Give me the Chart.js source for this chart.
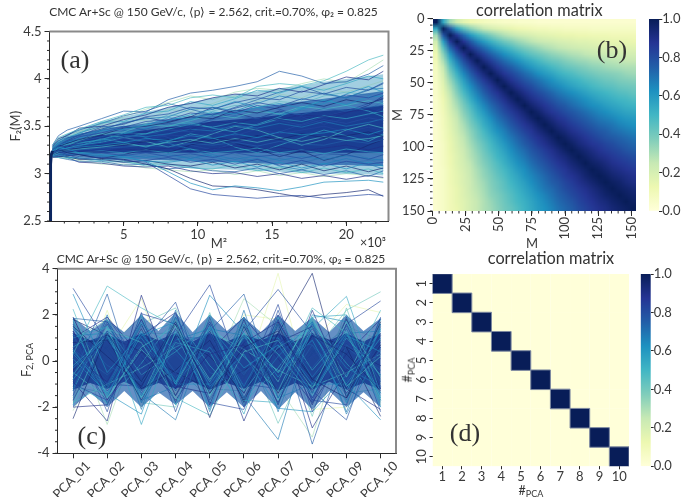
<!DOCTYPE html>
<html><head><meta charset="utf-8">
<script src="https://cdn.jsdelivr.net/npm/chart.js@4"></script>
<style>
html,body{margin:0;padding:0;background:#fff;overflow:hidden}
#page{position:absolute;left:0;top:0;width:681px;height:497px;overflow:hidden;filter:blur(.35px);background:#fff}
canvas{position:absolute}
.t{position:absolute;white-space:nowrap;color:#333;font-family:Lato,sans-serif;font-size:12.5px;line-height:1;transform:translate(-50%,-50%)}
.t sub{font-size:.72em;vertical-align:-.3em;line-height:0}
.s{font-family:"Liberation Serif",serif;font-size:26px;color:#333}
</style></head><body><div id="page"></div>
<script>
const TITLE_LEFT = "CMC Ar+Sc @ 150 GeV/c, ⟨p⟩ = 2.562, crit.=0.70%, φ₂ = 0.825";
const TITLE_RIGHT = "correlation matrix";

// (a) F2(M) curves, read at these M² nodes (in units of 10³)
const A_M2 = [0.2,0.6,1.2,2,3.5,5,6.5,8,9.5,11,12.5,14,15.5,17,18.5,20,21.5,22.5];
const A_LINES = [
[3.22,3.24,3.2,3.18,3.17,3.14,3.12,2.98,2.84,2.78,2.76,2.74,2.76,2.77,2.74,2.76,2.78,2.77],
[3.24,3.28,3.26,3.22,3.2,3.18,3.13,3.02,2.9,2.83,2.87,2.85,2.82,2.86,2.91,2.92,2.93,2.91],
[3.23,3.25,3.22,3.2,3.16,3.15,3.1,3.05,2.95,2.87,2.86,2.83,2.79,2.75,2.78,2.8,2.83,2.76],
[3.3,3.38,3.42,3.47,3.55,3.62,3.7,3.72,3.8,3.83,3.8,3.92,3.95,3.93,3.98,4.08,4.2,4.25],
[3.3,3.4,3.46,3.5,3.58,3.66,3.65,3.78,3.85,3.88,3.92,3.97,4.08,4.03,3.95,3.97,4.05,4.14],
[3.28,3.36,3.41,3.44,3.52,3.6,3.68,3.75,3.82,3.78,3.86,3.9,3.88,3.95,4,3.96,4.1,4.2],
[3.29,3.37,3.4,3.48,3.5,3.57,3.62,3.7,3.74,3.8,3.84,3.82,3.9,3.86,3.94,4.02,3.99,4.08],
[3.27,3.34,3.39,3.42,3.54,3.55,3.64,3.66,3.76,3.72,3.79,3.88,3.85,3.92,3.88,3.95,4.03,4],
[3.26,3.33,3.37,3.45,3.48,3.58,3.56,3.68,3.65,3.74,3.82,3.76,3.84,3.8,3.9,3.86,3.93,3.98],
[3.28,3.35,3.38,3.4,3.49,3.52,3.6,3.63,3.7,3.68,3.75,3.8,3.78,3.87,3.84,3.91,3.88,3.95],
[3.25,3.31,3.36,3.41,3.46,3.54,3.58,3.6,3.68,3.7,3.66,3.74,3.82,3.78,3.85,3.8,3.89,3.9],
[3.27,3.32,3.35,3.38,3.47,3.5,3.53,3.62,3.6,3.66,3.72,3.7,3.76,3.74,3.82,3.86,3.83,3.88],
[3.26,3.3,3.34,3.39,3.43,3.49,3.55,3.57,3.64,3.62,3.69,3.75,3.71,3.79,3.76,3.83,3.8,3.85],
[3.24,3.3,3.33,3.37,3.45,3.47,3.51,3.59,3.57,3.65,3.63,3.7,3.74,3.69,3.77,3.73,3.81,3.82],
[3.25,3.29,3.32,3.36,3.41,3.48,3.5,3.54,3.6,3.58,3.67,3.64,3.7,3.75,3.71,3.78,3.74,3.79],
[3.26,3.31,3.31,3.35,3.42,3.44,3.52,3.5,3.56,3.62,3.59,3.66,3.63,3.71,3.68,3.72,3.77,3.74],
[3.23,3.28,3.33,3.34,3.39,3.45,3.47,3.53,3.51,3.57,3.61,3.58,3.65,3.62,3.69,3.66,3.7,3.72],
[3.24,3.27,3.3,3.36,3.38,3.42,3.48,3.46,3.54,3.52,3.6,3.56,3.61,3.67,3.63,3.68,3.64,3.69],
[3.25,3.28,3.29,3.33,3.4,3.41,3.44,3.49,3.47,3.55,3.53,3.59,3.57,3.62,3.6,3.65,3.68,3.64],
[3.22,3.27,3.31,3.32,3.36,3.43,3.42,3.47,3.52,3.49,3.54,3.51,3.58,3.55,3.61,3.58,3.63,3.66],
[3.23,3.26,3.28,3.34,3.35,3.39,3.45,3.43,3.48,3.53,3.5,3.55,3.52,3.59,3.54,3.6,3.57,3.61],
[3.24,3.26,3.29,3.31,3.37,3.38,3.41,3.46,3.44,3.5,3.47,3.52,3.56,3.51,3.57,3.53,3.59,3.56],
[3.22,3.25,3.3,3.3,3.34,3.4,3.39,3.42,3.47,3.45,3.51,3.48,3.53,3.49,3.55,3.5,3.54,3.58],
[3.23,3.26,3.27,3.32,3.33,3.36,3.4,3.38,3.44,3.41,3.46,3.5,3.45,3.52,3.47,3.51,3.48,3.53],
[3.21,3.25,3.26,3.29,3.32,3.37,3.35,3.41,3.39,3.43,3.4,3.47,3.42,3.46,3.5,3.44,3.49,3.45],
[3.22,3.24,3.27,3.28,3.3,3.33,3.37,3.35,3.4,3.37,3.42,3.38,3.44,3.41,3.43,3.47,3.41,3.46],
[3.21,3.24,3.25,3.27,3.31,3.3,3.34,3.36,3.33,3.38,3.35,3.4,3.36,3.42,3.38,3.4,3.44,3.39],
[3.2,3.23,3.25,3.26,3.28,3.31,3.29,3.33,3.36,3.32,3.37,3.33,3.38,3.34,3.39,3.35,3.37,3.4],
[3.21,3.23,3.24,3.25,3.27,3.28,3.3,3.28,3.32,3.3,3.33,3.29,3.34,3.31,3.3,3.35,3.32,3.36],
[3.2,3.22,3.24,3.23,3.26,3.25,3.27,3.29,3.26,3.3,3.27,3.31,3.26,3.3,3.32,3.27,3.31,3.28],
[3.2,3.22,3.23,3.24,3.23,3.26,3.24,3.27,3.23,3.26,3.29,3.25,3.28,3.24,3.27,3.3,3.25,3.29],
[3.19,3.21,3.23,3.22,3.24,3.22,3.25,3.22,3.26,3.22,3.24,3.27,3.22,3.25,3.21,3.26,3.23,3.22],
[3.2,3.21,3.21,3.23,3.21,3.23,3.2,3.24,3.19,3.23,3.2,3.22,3.25,3.19,3.23,3.18,3.22,3.19],
[3.19,3.2,3.22,3.2,3.22,3.19,3.22,3.18,3.21,3.17,3.22,3.18,3.2,3.16,3.21,3.2,3.15,3.2],
[3.18,3.2,3.2,3.21,3.18,3.2,3.17,3.2,3.16,3.2,3.15,3.19,3.14,3.18,3.15,3.19,3.16,3.14],
[3.19,3.19,3.19,3.18,3.19,3.16,3.19,3.15,3.18,3.13,3.17,3.12,3.16,3.12,3.17,3.11,3.14,3.15],
[3.18,3.18,3.2,3.16,3.17,3.15,3.14,3.17,3.12,3.15,3.1,3.15,3.09,3.14,3.08,3.13,3.1,3.12],
[3.19,3.2,3.17,3.17,3.14,3.17,3.13,3.12,3.15,3.09,3.13,3.07,3.12,3.06,3.11,3.05,3.12,3.08],
[3.17,3.18,3.18,3.15,3.15,3.12,3.14,3.1,3.08,3.12,3.06,3.1,3.04,3.1,3.03,3.08,3.02,3.06],
[3.18,3.17,3.16,3.16,3.12,3.13,3.08,3.1,3.06,3.05,3.09,3.03,3.07,3.01,3.06,3.01,3.05,3],
[3.18,3.17,3.15,3.13,3.13,3.09,3.1,3.05,3.07,3.03,3.02,3.06,3,3.04,2.99,3.03,2.97,3.03],
[3.19,3.18,3.16,3.14,3.1,3.1,3.06,3.04,3.02,3.04,2.99,3.03,2.98,3.01,2.97,3,2.98,2.95],
[3.2,3.19,3.17,3.12,3.11,3.08,3.07,3.08,3.03,3,3.01,2.97,3,2.95,2.98,2.94,2.98,2.96],
[3.21,3.25,3.27,3.3,3.33,3.38,3.42,3.5,3.54,3.48,3.44,3.52,3.6,3.7,3.78,3.72,3.66,3.6],
[3.26,3.32,3.36,3.4,3.44,3.4,3.46,3.52,3.46,3.4,3.34,3.28,3.24,3.2,3.26,3.34,3.42,3.5],
[3.24,3.29,3.3,3.35,3.46,3.5,3.46,3.38,3.3,3.25,3.32,3.38,3.44,3.52,3.6,3.66,3.74,3.8],
[3.27,3.33,3.37,3.43,3.5,3.46,3.38,3.32,3.26,3.18,3.12,3.16,3.08,3.04,3.1,3.16,3.1,3.05],
[3.22,3.26,3.32,3.34,3.38,3.32,3.26,3.22,3.16,3.22,3.3,3.4,3.48,3.42,3.5,3.58,3.68,3.76],
[3.23,3.24,3.27,3.26,3.24,3.29,3.36,3.42,3.5,3.58,3.64,3.72,3.68,3.6,3.52,3.58,3.62,3.7],
[3.25,3.3,3.34,3.33,3.35,3.42,3.48,3.56,3.62,3.68,3.76,3.7,3.62,3.68,3.74,3.84,3.92,3.86],
[3.21,3.22,3.19,3.2,3.16,3.2,3.26,3.22,3.3,3.36,3.32,3.26,3.18,3.24,3.14,3.2,3.3,3.36],
[3.24,3.28,3.29,3.36,3.42,3.38,3.34,3.28,3.34,3.42,3.5,3.46,3.38,3.3,3.36,3.46,3.52,3.48],
[3.28,3.34,3.41,3.46,3.53,3.61,3.66,3.74,3.68,3.62,3.7,3.78,3.86,3.92,3.84,3.8,3.88,3.96],
[3.2,3.21,3.18,3.15,3.19,3.14,3.09,3.13,3.2,3.26,3.2,3.12,3.05,3.1,3.18,3.24,3.16,3.08],
[3.26,3.3,3.35,3.41,3.47,3.53,3.59,3.55,3.6,3.7,3.64,3.58,3.66,3.6,3.56,3.64,3.72,3.82],
[3.23,3.27,3.26,3.29,3.37,3.33,3.28,3.34,3.42,3.38,3.28,3.22,3.3,3.38,3.46,3.4,3.34,3.42]
];
// density of the curves too dense to read one by one, at the A_M2 nodes
const A_OUTER_UPPER = [3.3,3.37,3.42,3.47,3.55,3.6,3.65,3.7,3.75,3.8,3.84,3.87,3.9,3.93,3.97,4,4.03,4.05];
const A_OUTER_LOWER = [3.19,3.18,3.17,3.16,3.13,3.11,3.09,3.08,3.06,3.05,3.04,3.03,3.02,3.01,3,3,2.99,2.98];
const A_MID_UPPER = [3.28,3.33,3.38,3.42,3.46,3.5,3.53,3.57,3.6,3.64,3.67,3.7,3.73,3.76,3.79,3.82,3.85,3.87];
const A_MID_LOWER = [3.2,3.2,3.19,3.19,3.17,3.16,3.15,3.14,3.13,3.12,3.12,3.11,3.1,3.1,3.09,3.09,3.08,3.08];
const A_CORE_UPPER = [3.27,3.31,3.34,3.37,3.41,3.43,3.46,3.49,3.52,3.55,3.57,3.59,3.62,3.64,3.66,3.68,3.7,3.72];
const A_CORE_LOWER = [3.21,3.22,3.22,3.22,3.22,3.22,3.22,3.22,3.22,3.22,3.22,3.22,3.22,3.22,3.22,3.22,3.22,3.22];
// the steep rise at the very smallest M²
const A_RISE_M2 = [0.05,0.07,0.12,0.2];
const A_RISE_F2 = [2.4,3.1,3.2,3.24];

// (b) correlation matrix, upper triangle, one reading every 5 bins of M
const B_UPPER = [
[1,.55,.32,.22,.16,.12,.10,.08,.07,.06,.05,.05,.04,.04,.04,.03,.03,.03,.03,.03,.03,.03,.03,.03,.03,.03,.03,.03,.03,.03],
[1,.78,.58,.45,.36,.30,.25,.21,.18,.16,.14,.12,.11,.10,.09,.09,.08,.08,.07,.07,.07,.07,.06,.06,.06,.06,.06,.06,.06],
[1,.86,.72,.60,.51,.44,.38,.33,.29,.26,.23,.21,.19,.17,.16,.15,.14,.13,.13,.12,.12,.11,.11,.11,.10,.10,.10,.10],
[1,.88,.77,.67,.59,.52,.46,.41,.37,.33,.30,.27,.25,.23,.22,.20,.19,.18,.17,.17,.16,.15,.15,.14,.14,.14,.13],
[1,.89,.80,.72,.65,.58,.53,.48,.43,.39,.36,.33,.30,.28,.26,.25,.23,.22,.21,.20,.19,.19,.18,.18,.17,.17],
[1,.91,.83,.75,.69,.63,.58,.53,.48,.44,.41,.38,.35,.33,.31,.29,.28,.26,.25,.24,.23,.23,.22,.21,.21],
[1,.92,.85,.78,.72,.67,.62,.57,.53,.49,.45,.42,.40,.37,.35,.33,.32,.30,.29,.28,.27,.26,.25,.25],
[1,.93,.86,.80,.75,.70,.65,.60,.56,.53,.49,.46,.43,.41,.39,.37,.35,.34,.32,.31,.30,.29,.29],
[1,.93,.87,.82,.77,.72,.68,.63,.59,.56,.52,.49,.47,.44,.42,.40,.38,.37,.36,.35,.33,.32],
[1,.94,.88,.83,.78,.74,.70,.66,.62,.58,.55,.52,.50,.47,.45,.43,.41,.40,.38,.37,.36],
[1,.94,.89,.84,.80,.75,.71,.67,.64,.60,.57,.54,.52,.49,.47,.45,.44,.42,.41,.40],
[1,.95,.90,.85,.81,.77,.73,.69,.66,.63,.60,.57,.54,.52,.50,.48,.46,.45,.43],
[1,.95,.90,.86,.82,.78,.74,.71,.68,.65,.62,.59,.56,.54,.52,.50,.49,.47],
[1,.95,.91,.87,.83,.79,.76,.72,.69,.66,.63,.61,.58,.56,.54,.52,.51],
[1,.96,.91,.87,.84,.80,.77,.74,.71,.68,.65,.63,.60,.58,.56,.55],
[1,.96,.92,.88,.85,.81,.78,.75,.72,.69,.67,.65,.62,.60,.59],
[1,.96,.92,.89,.85,.82,.79,.76,.73,.71,.69,.66,.64,.62],
[1,.96,.93,.89,.86,.83,.80,.77,.75,.72,.70,.68,.66],
[1,.97,.93,.90,.87,.84,.81,.78,.76,.74,.72,.70],
[1,.97,.93,.90,.87,.85,.82,.80,.77,.75,.73],
[1,.97,.94,.91,.88,.85,.83,.81,.78,.76],
[1,.97,.94,.91,.89,.86,.84,.82,.80],
[1,.97,.95,.92,.89,.87,.85,.83],
[1,.98,.95,.92,.90,.88,.86],
[1,.98,.95,.93,.91,.89],
[1,.98,.96,.93,.91],
[1,.98,.96,.94],
[1,.98,.96],
[1,.98],
[1]
];
const B_BIN = 5;
const B_TICKS = [0,25,50,75,100,125,150];

// (c) F2 projected on the PCA components
const C_LABELS = ["PCA_01","PCA_02","PCA_03","PCA_04","PCA_05","PCA_06","PCA_07","PCA_08","PCA_09","PCA_10"];
const C_LINES = [
[3.15,.8,-.6,.9,-.4,1.1,-.8,.2,.9,-1.2],[2.9,-.5,1.2,-.9,1.5,-.3,.7,-1.4,1.1,.4],
[-2.5,1.2,-.9,1.7,-1.4,.6,1.3,-.8,-1.6,1.7],[.3,3.25,2.3,1.5,-.8,1.2,-.5,1.9,-1.1,.2],
[-.7,2.9,-1.8,.6,1.2,-1.6,.9,-.3,1.5,-.9],[1.2,-2.75,1.4,-.7,.8,-1.2,1.5,-.9,.3,1.1],
[-.9,-2.6,2.85,-1.2,.3,.7,-1.8,1.2,-.5,.8],[.6,1.5,-2.75,1.3,-.9,1.6,.3,-1.5,1,-.6],
[-1.4,.4,2.7,-1.5,1.1,-.5,1.2,.2,-1.2,1.5],[1.1,-1.3,.7,2.55,-1.7,.9,-.6,1.4,-.8,.3],
[-.3,1,-1.4,-2.55,1.5,-1.1,1.6,-.7,1.2,-1.5],[.9,-.8,1.6,2.3,-.6,1.7,-1.2,.5,-1.5,.9],
[-1.1,1.7,-.4,1.1,3.3,-.9,1.8,-1.6,.8,-.2],[.5,-1.5,1.3,-1,2.85,1.2,-.5,.9,-1.8,1.4],
[1.5,.2,-1.1,1.6,-2.45,1.5,-1.4,1.1,.3,-1.3],[-.6,1.4,.8,-1.6,-2.35,.4,.9,-1.2,1.7,-.7],
[.2,-1,1.5,-.5,1.3,2.9,-1.6,.7,-.9,1.6],[-1.6,.7,-1.3,1.4,-.7,2.7,1.5,-1.1,.4,-1],
[1.3,-1.7,.4,-1.2,1.6,-2.6,.8,1.5,-1.4,.6],[-.2,1.1,-1.6,.8,.4,-2.3,1.9,-.4,1.3,-1.6],
[.7,-.6,.9,-1.4,1.4,-.8,3.8,-1.9,.6,1.2],[-1,1.6,-.7,.3,-1.2,1.3,3.1,1.2,-1.5,.5],
[.4,-1.1,1.7,-.9,.6,-1.5,-3.4,1.6,-.3,-1.1],[1.6,.5,-1.5,1.2,-.3,.9,-2.7,.4,1.4,-.8],
[-1.3,1.3,.2,-.6,1.7,-1,2.45,-2.2,.9,.1],[.1,-1.4,1.1,1.7,-1.1,.3,-2.05,-2.2,-.6,1.3],
[.8,.9,-1.2,-.4,.9,-1.7,1.2,3.8,-1.6,.7],[-.5,-1.6,.6,1.5,-1.5,1.1,-.9,2.3,1.2,-1.7],
[1.4,-.2,-.9,.7,1.2,-.6,1.5,-3.6,.7,-.4],[-1.7,1.2,1,-1.3,.1,1.6,-1.1,-3.3,1.5,.9],
[.2,-.9,1.8,-1.1,-1.4,.8,1.7,-2.9,-.4,1.1],[1,1.5,-.6,.4,1.6,-1.3,.6,1.4,2.8,-1.4],
[-1.2,-.3,1.4,-1.7,.7,1.4,-1.5,.8,2.45,2.1],[.6,-1.8,.3,1.3,-.9,-.4,1.1,-1.3,-2.55,1.5],
[-.8,1.3,-1.5,.9,1.4,-1.7,.2,1.7,-2.3,.6],[1.7,-.7,1.2,-.3,-1.6,1.2,-1,.3,2.2,3],
[-1.5,1.9,-.2,-1.5,.8,.5,1.4,-1.7,1.6,2.6],[.3,-1.2,1.6,.5,-1.3,1.5,-.7,1.2,-1,-2.55],
[-.4,1,-1.7,1.1,.2,-1.4,1.7,-.8,.6,-2.4],[2.25,-1.6,.5,-1,1.5,.2,-1.3,1.8,-.7,2.2],
[1.85,1.7,-1.3,1.9,-.5,-1,.9,.7,-1.7,1.85],[-2.15,.6,1.9,-.8,1.8,-1.6,1.9,-.5,1.8,-1.9],
[-2,-1.9,1.1,2.1,-1.9,1.8,-1.9,2.2,-1.2,-2.1],[1.8,-1.9,2,-1.9,2,-1.7,-1.8,1.9,2,-1.6],
[-1.8,2.2,-2,1.8,-1.7,2,1.8,-2.1,-2,1.7],[1.2,-2.2,2.1,-2.2,1.9,-2,2.2,-1.8,1.9,-2.2],
[-1.2,2,-2.1,2.2,-2.1,2.2,-2.2,1.7,-2.2,1.6],[.9,1.8,-1.8,-2,2.1,-1.9,1.6,-2.4,2.3,-1.8],
[-1,-1.7,2.05,1.6,-1.8,-2.1,2,-1.7,-1.9,1.9],[1.5,-1.4,-2.3,1.9,-2.2,1.9,-1.6,2,1.7,-2],
[1.9,-1.2,1.6,-1.5,1.3,-1.8,1.6,-1.4,1.8,-1.2],[-1.9,1.4,-1.6,1.6,-1.5,1.5,-1.7,1.5,-1.5,1.4],
[1.6,-1.6,1.8,-1.3,1.7,-1.4,1.8,-1.6,1.4,-1.7],[-1.6,1.6,-1.2,1.8,-1.3,1.8,-1.4,1.8,-1.8,1.6],
[1.3,-1.1,1.4,-1.8,1.2,-1.6,1.2,-1.9,1.6,-1.4],[-1.3,1.8,-1.8,1.2,-1.8,1.2,-1.9,1.3,-1.3,1.8],
[1.7,-1.5,1.1,-1.6,1.8,-1.2,1.4,-1.2,1.9,-1],[-1.7,1.1,-1.4,1.4,-1,1.6,-1.2,1.6,-1.1,1.2],
[1.1,1.2,-1.7,-1.1,1.4,1.1,-1.6,-1,1.2,1.3],[-1.1,-1.4,1.2,1.2,-1.2,-1.3,1.1,1.1,-1.4,-1.2],
[.8,-1,-1.1,1,1,-1,-1.2,.9,.9,-1.1],[-.8,1,1,-1,-1,1,1,-1,-1,1],
[1.8,1.1,.4,-.5,-1.2,-.4,.5,1.2,.6,-.2],[-1.8,-1,-.3,.6,1.3,.5,-.4,-1.1,-.5,.3],
[.5,-.6,.7,-.7,.6,-.5,.7,-.8,.6,-.6],[-.5,.6,-.8,.6,-.7,.7,-.6,.6,-.7,.7],
[1,1.9,.2,-1.7,.4,1.9,.1,-1.8,.3,1.8],[-1,-1.8,-.1,1.9,-.2,-1.8,-.3,1.7,-.1,-1.7]
];
// density of the curves too dense to read one by one, at and between the PCA components
const C_BAND_X = [0,.5,1,1.5,2,2.5,3,3.5,4,4.5,5,5.5,6,6.5,7,7.5,8,8.5,9];
const C_MID_UPPER = [1.9,1.3,1.8,1.25,2,1.3,2.1,1.25,2,1.3,1.9,1.25,2,1.3,1.9,1.25,2,1.3,1.85];
const C_MID_LOWER = [-2,-1.35,-2,-1.3,-2,-1.35,-1.9,-1.3,-2,-1.35,-2,-1.3,-2.1,-1.35,-2.1,-1.3,-2,-1.35,-2];
const C_CORE_UPPER = [1.2,.9,1.15,.85,1.2,.9,1.2,.85,1.2,.85,1.15,.9,1.2,.85,1.15,.9,1.2,.85,1.2];
const C_CORE_LOWER = [-1.25,-.95,-1.2,-.9,-1.25,-.95,-1.2,-.9,-1.25,-.95,-1.2,-.9,-1.3,-.95,-1.25,-.9,-1.25,-.95,-1.25];

// (d) correlation matrix of the PCA components
const D_LABELS = ["1","2","3","4","5","6","7","8","9","10"];
const D_MATRIX = [
[1,0,0,0,0,0,0,0,0,0],[0,1,0,0,0,0,0,0,0,0],[0,0,1,0,0,0,0,0,0,0],[0,0,0,1,0,0,0,0,0,0],[0,0,0,0,1,0,0,0,0,0],
[0,0,0,0,0,1,0,0,0,0],[0,0,0,0,0,0,1,0,0,0],[0,0,0,0,0,0,0,1,0,0],[0,0,0,0,0,0,0,0,1,0],[0,0,0,0,0,0,0,0,0,1]
];
const CBAR_TICKS = [0,.2,.4,.6,.8,1];

/* ---------- styling ---------- */
const FONT = "Lato, sans-serif";
const INK = "#3a3a3a", AXIS = "#2a2a2a", FRAME = "#8a8a8a";
const CMAP = [[255,255,217],[237,248,177],[199,233,180],[127,205,187],[65,182,196],[29,145,192],[34,94,168],[37,52,148],[8,29,88]];
function rgb(v,a){
  const t=Math.max(0,Math.min(1,v))*(CMAP.length-1), i=Math.min(CMAP.length-2,Math.floor(t)), f=t-i;
  const c=CMAP[i].map((u,k)=>Math.round(u+(CMAP[i+1][k]-u)*f));
  return a===undefined?`rgb(${c})`:`rgba(${c},${a})`;
}
const SHADES=[.82,.62,.95,.48,.75,.3,.9,.55,.15,.8,.68,.4];
// pale curves lie beneath the dense band, darker ones above it
const layerOf=s=>s<.45?10:0;
const page=document.getElementById("page");
function canvasAt(l,t,w,h,cssW,cssH){
  const c=document.createElement("canvas");
  c.style.left=l+"px";c.style.top=t+"px";c.style.width=(cssW||w)+"px";c.style.height=(cssH||h)+"px";
  c.width=w;c.height=h;page.appendChild(c);return c;
}
function text(html,x,y,cls,rot,fs){
  const d=document.createElement("div");d.className="t "+(cls||"");d.innerHTML=html;
  d.style.left=x+"px";d.style.top=y+"px";
  if(fs)d.style.fontSize=fs+"px";
  if(rot)d.style.transform=`translate(-50%,-50%) rotate(${rot}deg)`;
  page.appendChild(d);
}
const minorPlugin={id:"minor",afterDraw(ch,a,o){
  const g=ch.ctx,A=ch.chartArea;g.save();g.strokeStyle=AXIS;g.lineWidth=1;
  (o.x||[]).forEach(v=>{const p=ch.scales.x.getPixelForValue(v);g.beginPath();g.moveTo(p,A.bottom);g.lineTo(p,A.bottom+2.5);g.stroke();});
  (o.y||[]).forEach(v=>{const p=ch.scales.y.getPixelForValue(v);g.beginPath();g.moveTo(A.left,p);g.lineTo(A.left-2.5,p);g.stroke();});
  if(o.frame){g.strokeStyle=FRAME;g.lineWidth=2;g.beginPath();g.moveTo(A.left,A.top);g.lineTo(A.right,A.top);g.lineTo(A.right,A.bottom);g.stroke();}
  if(o.yLabels){g.fillStyle=INK;g.font=o.font;g.textAlign="center";g.textBaseline="middle";
    ch.scales.y.ticks.forEach((t,i)=>{g.save();g.translate(A.left-10.5,ch.scales.y.getPixelForValue(t.value));g.rotate(-Math.PI/2);g.fillText(o.yLabels[i],0,0);g.restore();});}
  g.restore();
}};
function seq(a,b,s){const r=[];for(let v=a;v<=b+1e-9;v+=s)r.push(+v.toFixed(4));return r;}
function axis(o){
  const s={type:"linear",min:o.min,max:o.max,reverse:!!o.reverse,position:o.position,
    border:{display:o.border!==false,color:AXIS,width:o.bw||1},
    grid:{display:true,drawOnChartArea:false,drawTicks:true,tickLength:o.tl||5,color:AXIS,tickColor:AXIS},
    ticks:{autoSkip:false,font:{family:FONT,size:o.fs||13},color:INK,padding:o.pad===undefined?3:o.pad,display:o.showLabels!==false,
      labelOffset:o.lo||0,minRotation:o.rot||0,maxRotation:o.rot||0,callback:o.fmt||(v=>String(v))},
    afterBuildTicks:sc=>{sc.ticks=o.ticks.map(v=>({value:v}));},
    afterFit:sc=>{if(o.w!==undefined)sc.width=o.w;if(o.h!==undefined)sc.height=o.h;}};
  if(o.title)s.title={display:true,text:o.title,color:INK,font:{family:FONT,size:o.tfs||13,lineHeight:1},padding:o.tpad||{top:0,bottom:0}};
  return s;
}
const BASE={responsive:false,animation:false,events:[],devicePixelRatio:1};
const QUIET={legend:{display:false},tooltip:{enabled:false}};

/* ---------- (a) ---------- */
(function(){
  const pts=l=>A_M2.map((x,i)=>({x,y:l[i]}));
  const ds=A_LINES.map((l,i)=>{const s=SHADES[i%SHADES.length];
    return {data:pts(l),borderColor:rgb(s,.68),borderWidth:1,pointRadius:0,tension:0,order:layerOf(s)};});
  ds.unshift({data:A_RISE_M2.map((x,i)=>({x,y:A_RISE_F2[i]})),borderColor:"#0b2560",borderWidth:3,pointRadius:0,order:0});
  [[A_CORE_UPPER,A_CORE_LOWER,"rgba(20,52,140,.85)"],[A_MID_UPPER,A_MID_LOWER,"rgba(28,88,170,.7)"],[A_OUTER_UPPER,A_OUTER_LOWER,"rgba(70,160,195,.5)"]].forEach((b,k)=>{
    const n=ds.length;
    ds.push({data:pts(b[0]),borderWidth:0,pointRadius:0,fill:{target:n+1},backgroundColor:b[2],order:3+k});
    ds.push({data:pts(b[1]),borderWidth:0,pointRadius:0,order:3+k});
  });
  new Chart(canvasAt(0,0,400,250),{type:"line",plugins:[minorPlugin],data:{datasets:ds},options:{...BASE,
    layout:{padding:{right:11.5,top:31.5}},
    plugins:{...QUIET,minor:{x:seq(1,22,1),y:seq(2.5,4.5,.1),frame:true}},
    scales:{
      x:axis({min:0,max:22.85,ticks:[5,10,15,20],h:29,title:"M²",tfs:13,pad:1}),
      y:axis({min:2.5,max:4.5,ticks:[2.5,3,3.5,4,4.5],w:49.5,fmt:v=>v%1===0?String(v):v.toFixed(1),title:"F₂(M)",tpad:{top:9,bottom:0}})
    }}});
})();

/* ---------- heat maps ---------- */
function cellsChart(cv,cells,n,opts){
  new Chart(cv,{type:"scatter",plugins:opts.plugins||[],data:{datasets:[{data:cells,
    pointStyle:"rect",
    pointRadius:c=>(c.chart.scales.x.width/n+(opts.over||0))/Math.SQRT2,
    pointBackgroundColor:c=>rgb(c.raw.v),
    pointBorderColor:c=>c.raw.v>.99&&opts.edge?opts.edge:"transparent",
    pointBorderWidth:c=>c.raw.v>.99&&opts.edge?1:0}]},
    options:{...BASE,layout:{padding:opts.pad||0},
    plugins:{...QUIET,minor:opts.minor},scales:opts.scales}});
}
function colorbar(l,t,w,h,padL,axisW,padTop,padBottom,fs){
  new Chart(canvasAt(l,t,w,h),{type:"bar",data:{labels:["r"],datasets:[{data:[[0,1]],barPercentage:1,categoryPercentage:1,
    backgroundColor:c=>{const a=c.chart.chartArea;if(!a)return "#000";
      const g=c.chart.ctx.createLinearGradient(0,a.bottom,0,a.top);
      for(let i=0;i<CMAP.length;i++)g.addColorStop(i/(CMAP.length-1),rgb(i/(CMAP.length-1)));return g;}}]},
    options:{...BASE,layout:{padding:{left:padL,top:padTop,bottom:padBottom}},
    plugins:QUIET,
    scales:{x:{display:false},y:{...axis({min:0,max:1,ticks:CBAR_TICKS,w:axisW,fs:fs,pad:0,tl:3,border:false,fmt:v=>v.toFixed(1)}),position:"right"}}}});
}

/* (b): one canvas pixel per reading, smoothed by the browser when it is stretched over the plot */
(function(){
  const cells=[];
  B_UPPER.forEach((row,r)=>row.forEach((v,k)=>{
    const c=r+k;
    cells.push({x:(c+.5)*B_BIN,y:(r+.5)*B_BIN,v});
    if(c!==r)cells.push({x:(r+.5)*B_BIN,y:(c+.5)*B_BIN,v});
  }));
  const n=B_UPPER.length;
  cellsChart(canvasAt(432.5,18.7,n,n,203.2,192.3),cells,n,{
    scales:{x:{display:false,type:"linear",min:0,max:150},y:{display:false,type:"linear",min:0,max:150,reverse:true}}});
  new Chart(canvasAt(388,0,260,250),{type:"scatter",plugins:[minorPlugin],data:{datasets:[]},options:{...BASE,
    layout:{padding:{right:12.3,top:18.7}},
    plugins:{...QUIET,minor:{x:seq(0,150,5),y:seq(0,150,5)}},
    scales:{
      x:axis({min:0,max:150,ticks:B_TICKS,h:39,rot:90,title:"M",pad:1,border:false}),
      y:axis({min:0,max:150,reverse:true,ticks:B_TICKS,w:44.5,title:"M",tpad:{top:3,bottom:0},border:false})
    }}});
  colorbar(640,0,41,250,9,21.7,19,39,13);
})();

/* ---------- (c) ---------- */
(function(){
  const pts=l=>l.map((y,x)=>({x,y}));
  const band=l=>C_BAND_X.map((x,i)=>({x,y:l[i]}));
  const ds=C_LINES.map((l,i)=>{const s=SHADES[i%SHADES.length];
    return {data:pts(l),borderColor:rgb(s,.62),borderWidth:1,pointRadius:0,tension:0,order:layerOf(s)};});
  [[C_CORE_UPPER,C_CORE_LOWER,"rgba(20,56,142,.85)"],[C_MID_UPPER,C_MID_LOWER,"rgba(28,92,170,.68)"]].forEach((b,k)=>{
    const n=ds.length;
    ds.push({data:band(b[0]),borderWidth:0,pointRadius:0,fill:{target:n+1},backgroundColor:b[2],order:3+k});
    ds.push({data:band(b[1]),borderWidth:0,pointRadius:0,order:3+k});
  });
  new Chart(canvasAt(0,245,420,252),{type:"line",plugins:[minorPlugin],data:{datasets:ds},options:{...BASE,
    layout:{padding:{right:24,top:23.7}},
    plugins:{...QUIET,minor:{y:seq(-4,4,.5),frame:true}},
    scales:{
      x:axis({min:-.454,max:9.45,ticks:C_LABELS.map((_,i)=>i),h:43.7,rot:45,fmt:v=>C_LABELS[v],fs:13,pad:0,lo:15}),
      y:axis({min:-4,max:4,ticks:[-4,-2,0,2,4],w:57.5})
    }}});
})();

/* (d) */
(function(){
  const cells=[];
  D_MATRIX.forEach((row,r)=>row.forEach((v,c)=>cells.push({x:c+1,y:r+1,v})));
  cells.sort((a,b)=>a.v-b.v);
  cellsChart(canvasAt(400,245,230,252),cells,10,{plugins:[minorPlugin],edge:"#7c88a0",pad:{right:1,top:29},
    minor:{yLabels:D_LABELS,font:"13px "+FONT},
    scales:{
      x:axis({min:.5,max:10.5,ticks:seq(1,10,1),h:30.7,border:false,pad:0,tl:3}),
      y:axis({min:.5,max:10.5,reverse:true,ticks:seq(1,10,1),w:32.5,border:false,showLabels:false,tl:3})
    }});
  colorbar(632,245,49,252,8.7,30.3,29,30.7,13);
})();

/* ---------- titles and annotations ---------- */
text(TITLE_LEFT,213.5,12,"",0,12);
text(TITLE_LEFT,221,259,"",0,12);
text(TITLE_RIGHT,539.3,9.5,"",0,16.3);
text(TITLE_RIGHT,551,258,"",0,16.3);
text("×10³",373,243);
text("F<sub>2, PCA</sub>",27,360,"",-90);
text("#<sub>PCA</sub>",408,370,"",-90);
text("#<sub>PCA</sub>",531,491);
text("(a)",75,60,"s");
text("(b)",612,50,"s");
text("(c)",92,436,"s");
text("(d)",465,433,"s");
</script></body></html>
